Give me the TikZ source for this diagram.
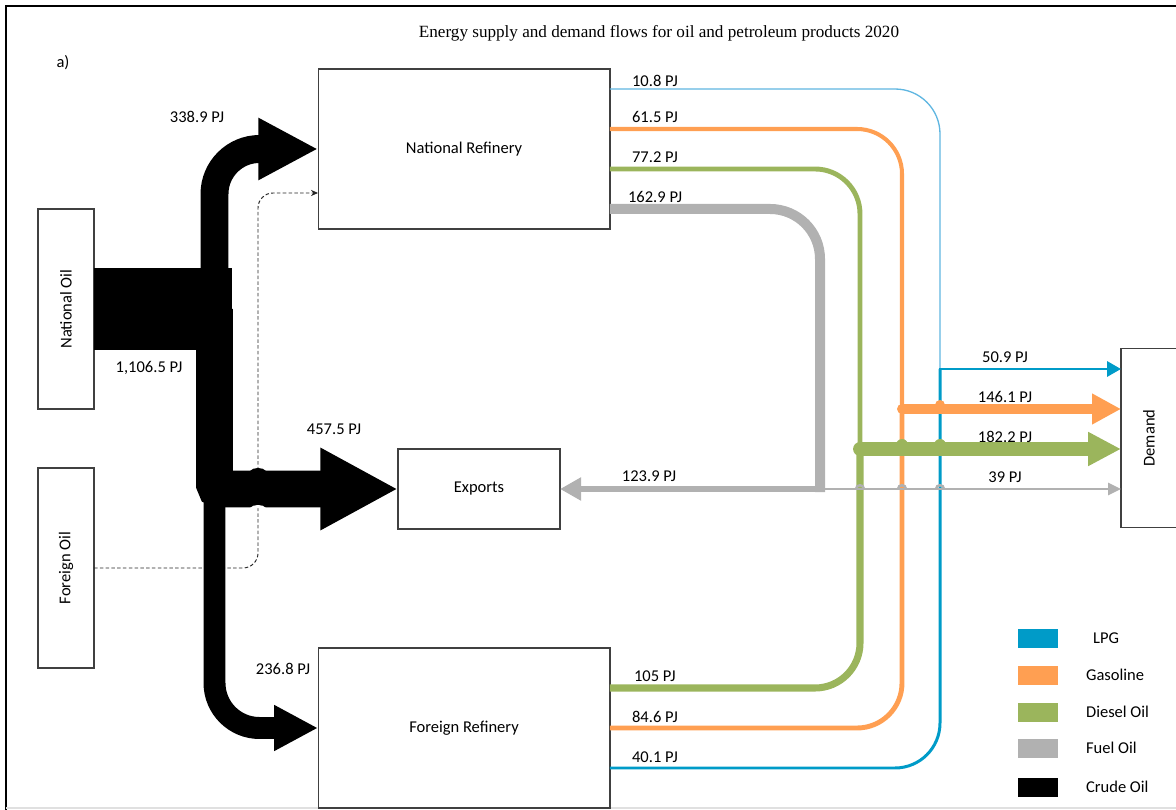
\documentclass[tikz,border=0pt]{standalone}
\usepackage{fontspec}
\setmainfont{Carlito}
\newfontfamily\titlefont{Liberation Serif}
\usetikzlibrary{positioning,arrows.meta,calc}
\definecolor{lpg}{RGB}{0,155,200}
\definecolor{lpglt}{RGB}{95,182,225}
\definecolor{gasoline}{RGB}{255,159,82}
\definecolor{diesel}{RGB}{155,181,92}
\definecolor{fueloil}{RGB}{177,177,177}

\begin{document}
\begin{tikzpicture}[
    x=0.02cm,y=-0.02cm,
    every node/.style={font=\fontsize{9.4}{11}\selectfont},
    box/.style={draw=black!75,line width=0.6pt,fill=white,inner sep=0pt,outer sep=0pt},
    src/.style={box,minimum width=1.12cm,minimum height=4cm},
    refy/.style={box,minimum width=5.84cm,minimum height=3.2cm},
    lbl/.style={inner sep=1pt},
    crude/.style={draw=black,line cap=butt},
    dashflow/.style={draw=black!85,line width=0.55pt,dash pattern=on 2pt off 1.3pt},
    key/.style={minimum width=0.8cm,minimum height=0.38cm,inner sep=0pt}
  ]
  \useasboundingbox (0,0) rectangle (1176,810);
  % frame
  \draw[line width=1.1pt] (1176,6) -- (6,6) -- (6,810);
  \draw[black!12,line width=0.6pt] (6,808) -- (1176,808);
  \node[font=\titlefont\fontsize{9.75}{11}\selectfont] (title) at (659,33)
    {Energy supply and demand flows for oil and petroleum products 2020};
  \node (tag) at (63,63) {a)};
  % boxes
  \node[src] (natoil) at (66,309) {\rotatebox{90}{National Oil}};
  \node[src] (foroil) at (66,568) {\rotatebox{90}{Foreign Oil}};
  \node[refy] (natref) at (464,149) {National Refinery};
  \node[refy] (forref) at (464,728) {Foreign Refinery};
  \node[box,minimum width=3.24cm,minimum height=1.6cm] (exports) at (479,489) {Exports};
  \node[box,minimum width=1.12cm,minimum height=3.58cm] (demand) at (1149,438) {\rotatebox{90}{Demand}};
  % junctions and ports
  \coordinate (split) at (214.5,309);
  \coordinate (lpgj) at (940,369);
  \coordinate (gasj) at (902,409);
  \coordinate (dslj) at (860,449);
  \coordinate (fuelj) at (820,489);
  \coordinate (nrL) at ($(natref.north east)!0.125!(natref.south east)$);
  \coordinate (nrG) at ($(natref.north east)!0.375!(natref.south east)$);
  \coordinate (nrD) at ($(natref.north east)!0.625!(natref.south east)$);
  \coordinate (nrF) at ($(natref.north east)!0.875!(natref.south east)$);
  \coordinate (frD) at ($(forref.north east)!0.25!(forref.south east)$);
  \coordinate (frG) at ($(forref.north east)!0.5!(forref.south east)$);
  \coordinate (frL) at ($(forref.north east)!0.75!(forref.south east)$);
  \coordinate (dashin) at ($(natref.north west)!0.775!(natref.south west)$);
  % foreign crude (dashed, behind)
  \draw[dashflow,rounded corners=0.3cm,-{Stealth[length=4pt,width=3.5pt]}]
    (foroil.east) -| (258,193) -- (dashin);
  % crude oil
  \draw[crude,line width=47pt] (natoil.east) -- ++(138,0);
  \draw[crude,line width=15.9pt,rounded corners=0.9cm,-{Triangle[length=34pt,width=33pt]}]
    (split) |- (natref.west);
  \draw[crude,line width=21pt,rounded corners=0.1cm,-{Triangle[length=44.2pt,width=43.7pt]}]
    (split) |- (exports.west);
  \draw[crude,line width=12.5pt,rounded corners=0.9cm,-{Triangle[length=25pt,width=24.4pt]}]
    (split |- exports.west) |- (forref.west);
  \fill (250,471) .. controls (253,467) and (263,467) .. (266,471) -- cycle;
  \fill[white] (250,508) .. controls (253,504) and (263,504) .. (266,508) -- cycle;
  % fuel oil
  \draw[fueloil,line width=5.7pt,rounded corners=1cm] (nrF) -| ($(fuelj)+(0,3)$);
  \draw[fueloil,line width=3.4pt,-{Triangle[length=12pt,width=12.5pt]}] (fuelj) -- (exports.east);
  % diesel
  \draw[diesel,line width=2.8pt,rounded corners=0.9cm] (nrD) -| (dslj);
  \draw[diesel,line width=4pt,rounded corners=0.9cm] (frD) -| (dslj);
  % gasoline
  \draw[gasoline,line width=2.3pt,rounded corners=0.9cm] (nrG) -| (gasj);
  \draw[gasoline,line width=2.8pt,rounded corners=0.9cm] (frG) -| (gasj);
  % lpg
  \draw[lpglt,line width=0.75pt,rounded corners=0.9cm] (nrL) -| (lpgj);
  \draw[lpg,line width=1.7pt,rounded corners=0.9cm] (frL) -| (lpgj);
  % flows to demand
  \draw[lpg,line width=1.7pt,line cap=rect,-{Triangle[length=7.9pt,width=8.5pt]}]
    (lpgj) -- (demand.west |- lpgj);
  \draw[gasoline,line width=5.7pt,line cap=round,-{Triangle[length=16.4pt,width=16.4pt]}]
    (gasj) -- (demand.west |- gasj);
  \fill[gasoline] (940,405) circle (5);
  \draw[diesel,line width=7.9pt,line cap=round,-{Triangle[length=18.7pt,width=18.1pt]}]
    (dslj) -- (demand.west |- dslj);
  \foreach \bx in {902,940}{\fill[diesel] (\bx,445) circle (6);}
  \draw[fueloil,line width=1.7pt,-{Triangle[length=7.4pt,width=6.8pt]}]
    (fuelj) -- (demand.west |- fuelj);
  \foreach \bx in {860,902,940}{
    \draw[fueloil,line width=1.4pt] (\bx-4,489) .. controls (\bx-4,484) and (\bx+4,484) .. (\bx+4,489);}
  % values
  \node[lbl] (v338) at (197,117) {338.9 PJ};
  \node[lbl] (v1106) at (149,368) {1,106.5 PJ};
  \node[lbl] (v457) at (334,429) {457.5 PJ};
  \node[lbl] (v236) at (283,669) {236.8 PJ};
  \node[lbl,anchor=west] (v108) at (630,81) {10.8 PJ};
  \node[lbl,anchor=west] (v615) at (630,117) {61.5 PJ};
  \node[lbl,anchor=west] (v772) at (630,157) {77.2 PJ};
  \node[lbl,anchor=west] (v1629) at (626,197) {162.9 PJ};
  \node[lbl] (v1239) at (649,476) {123.9 PJ};
  \node[lbl,anchor=west] (v105) at (632,676) {105 PJ};
  \node[lbl,anchor=west] (v846) at (630,717) {84.6 PJ};
  \node[lbl,anchor=west] (v401) at (630,757) {40.1 PJ};
  \node[lbl] (v509) at (1005,357) {50.9 PJ};
  \node[lbl] (v1461) at (1005,397) {146.1 PJ};
  \node[lbl] (v1822) at (1005,437) {182.2 PJ};
  \node[lbl] (v39) at (1005,477) {39 PJ};
  % legend
  \foreach \c/\t/\tx/\y in {lpg/LPG/1091/638,gasoline/Gasoline/1084/675,diesel/Diesel Oil/1084/712,
      fueloil/Fuel Oil/1084/748,black/Crude Oil/1084/787}{
    \node[key,fill=\c] (key\c) at (1038,\y) {};
    \node[lbl,anchor=west] (txt\c) at (\tx,\y) {\t};}
\end{tikzpicture}
\end{document}
